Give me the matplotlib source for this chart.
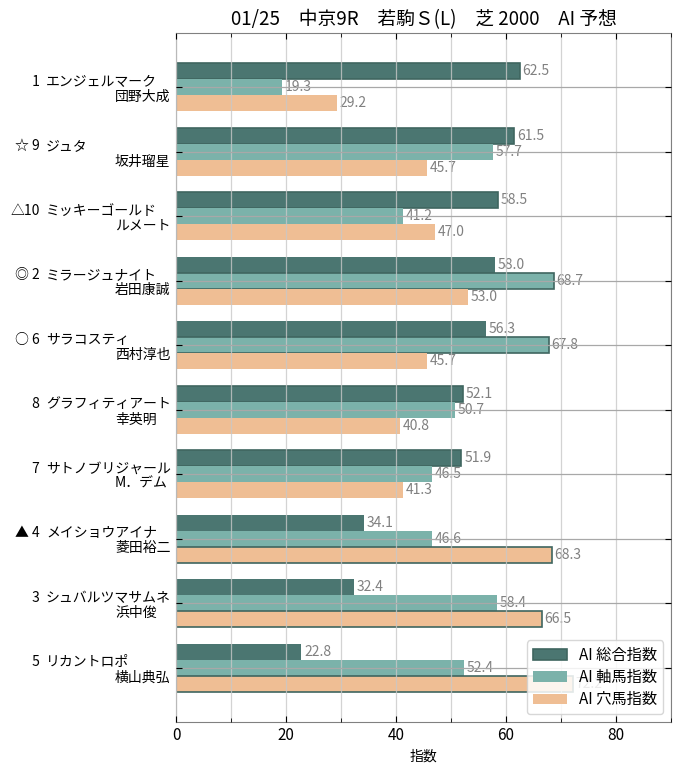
import matplotlib
matplotlib.use('Agg')
import matplotlib.pyplot as plt
import matplotlib.transforms as mtrans
from matplotlib.ticker import MultipleLocator
import numpy as np

plt.rcParams['font.family'] = ['Noto Sans CJK JP', 'DejaVu Sans']

# Data
marks = ['', '☆', '△', '◎', '○', '', '', '▲', '', '']
numbers = [1, 9, 10, 2, 6, 8, 7, 4, 3, 5]
horses = ['エンジェルマーク', 'ジュタ', 'ミッキーゴールド', 'ミラージュナイト', 'サラコスティ',
          'グラフィティアート', 'サトノブリジャール', 'メイショウアイナ', 'シュバルツマサムネ', 'リカントロポ']
jockeys = ['団野大成', '坂井瑠星', 'ルメート', '岩田康誠', '西村淳也',
           '幸英明', 'M．デム', '菱田裕二', '浜中俊', '横山典弘']
total = [62.5, 61.5, 58.5, 58.0, 56.3, 52.1, 51.9, 34.1, 32.4, 22.8]
axis_idx = [19.3, 57.7, 41.2, 68.7, 67.8, 50.7, 46.5, 46.6, 58.4, 52.4]
hole_idx = [29.2, 45.7, 47.0, 53.0, 45.7, 40.8, 41.3, 68.3, 66.5, 72.2]
series_names = ['AI 総合指数', 'AI 軸馬指数', 'AI 穴馬指数']
colors = ['#4b7671', '#7bb2aa', '#efbe94']
edge_col = '#3f6660'

fig = plt.figure(figsize=(6.8, 7.71), dpi=100)
ax = fig.add_axes([176 / 680, 1 - 722 / 771, 495 / 680, 689 / 771])

y = np.arange(len(numbers))
h = 0.25
series = [total, axis_idx, hole_idx]
for k, vals in enumerate(series):
    pos = y + (k - 1) * h
    bars = ax.barh(pos, vals, height=h, color=colors[k], label=series_names[k], zorder=1)
    for i, b in enumerate(bars):
        row = [s[i] for s in series]
        # highlight the best index of each horse
        if vals[i] == max(row):
            b.set_edgecolor(edge_col)
            b.set_linewidth(1.2)
        ax.text(vals[i] + 0.5, pos[i], f'{vals[i]:.1f}', va='center', ha='left',
                fontsize=10, color='#808080', zorder=2)

ax.set_xlim(0, 90)
ax.set_ylim(len(numbers) - 1 + 0.84, -0.84)
ax.xaxis.set_major_locator(MultipleLocator(20))
ax.xaxis.set_minor_locator(MultipleLocator(10))
ax.set_yticks(y)
ax.set_yticklabels([''] * len(y))
ax.grid(True, axis='x', which='both', color='#c8c8c8', linewidth=0.9, alpha=0.8, zorder=3)
ax.grid(True, axis='y', which='major', color='#a8a8a8', linewidth=0.9, zorder=3)
ax.set_axisbelow(False)
ax.tick_params(which='both', direction='in', top=True, right=True, labelsize=11)
ax.tick_params(which='major', length=4)
ax.tick_params(which='minor', length=3)
for s in ax.spines.values():
    s.set_color('#808080')

# two-line labels for each horse
base = mtrans.blended_transform_factory(fig.transFigure, ax.transData)
up = base + mtrans.ScaledTranslation(0, 0.055, fig.dpi_scale_trans)
down = base + mtrans.ScaledTranslation(0, -0.097, fig.dpi_scale_trans)
for i in range(len(numbers)):
    ax.text(40 / 680, y[i], f'{marks[i]}{numbers[i]:>2}', transform=up,
            ha='right', va='center', fontsize=10, clip_on=False)
    ax.text(46 / 680, y[i], horses[i], transform=up,
            ha='left', va='center', fontsize=10, clip_on=False)
    ax.text(115 / 680, y[i], jockeys[i], transform=down,
            ha='left', va='center', fontsize=10, clip_on=False)

ax.set_xlabel('指数', fontsize=10)
ax.set_title('01/25　中京9R　若駒Ｓ(L)　芝 2000　AI 予想', fontsize=13.5)

ax.legend(loc='lower right', fontsize=11, framealpha=0.85, edgecolor='#d0d0d0',
          handlelength=2.2, labelspacing=0.35)

fig.savefig('out.png', dpi=100)
